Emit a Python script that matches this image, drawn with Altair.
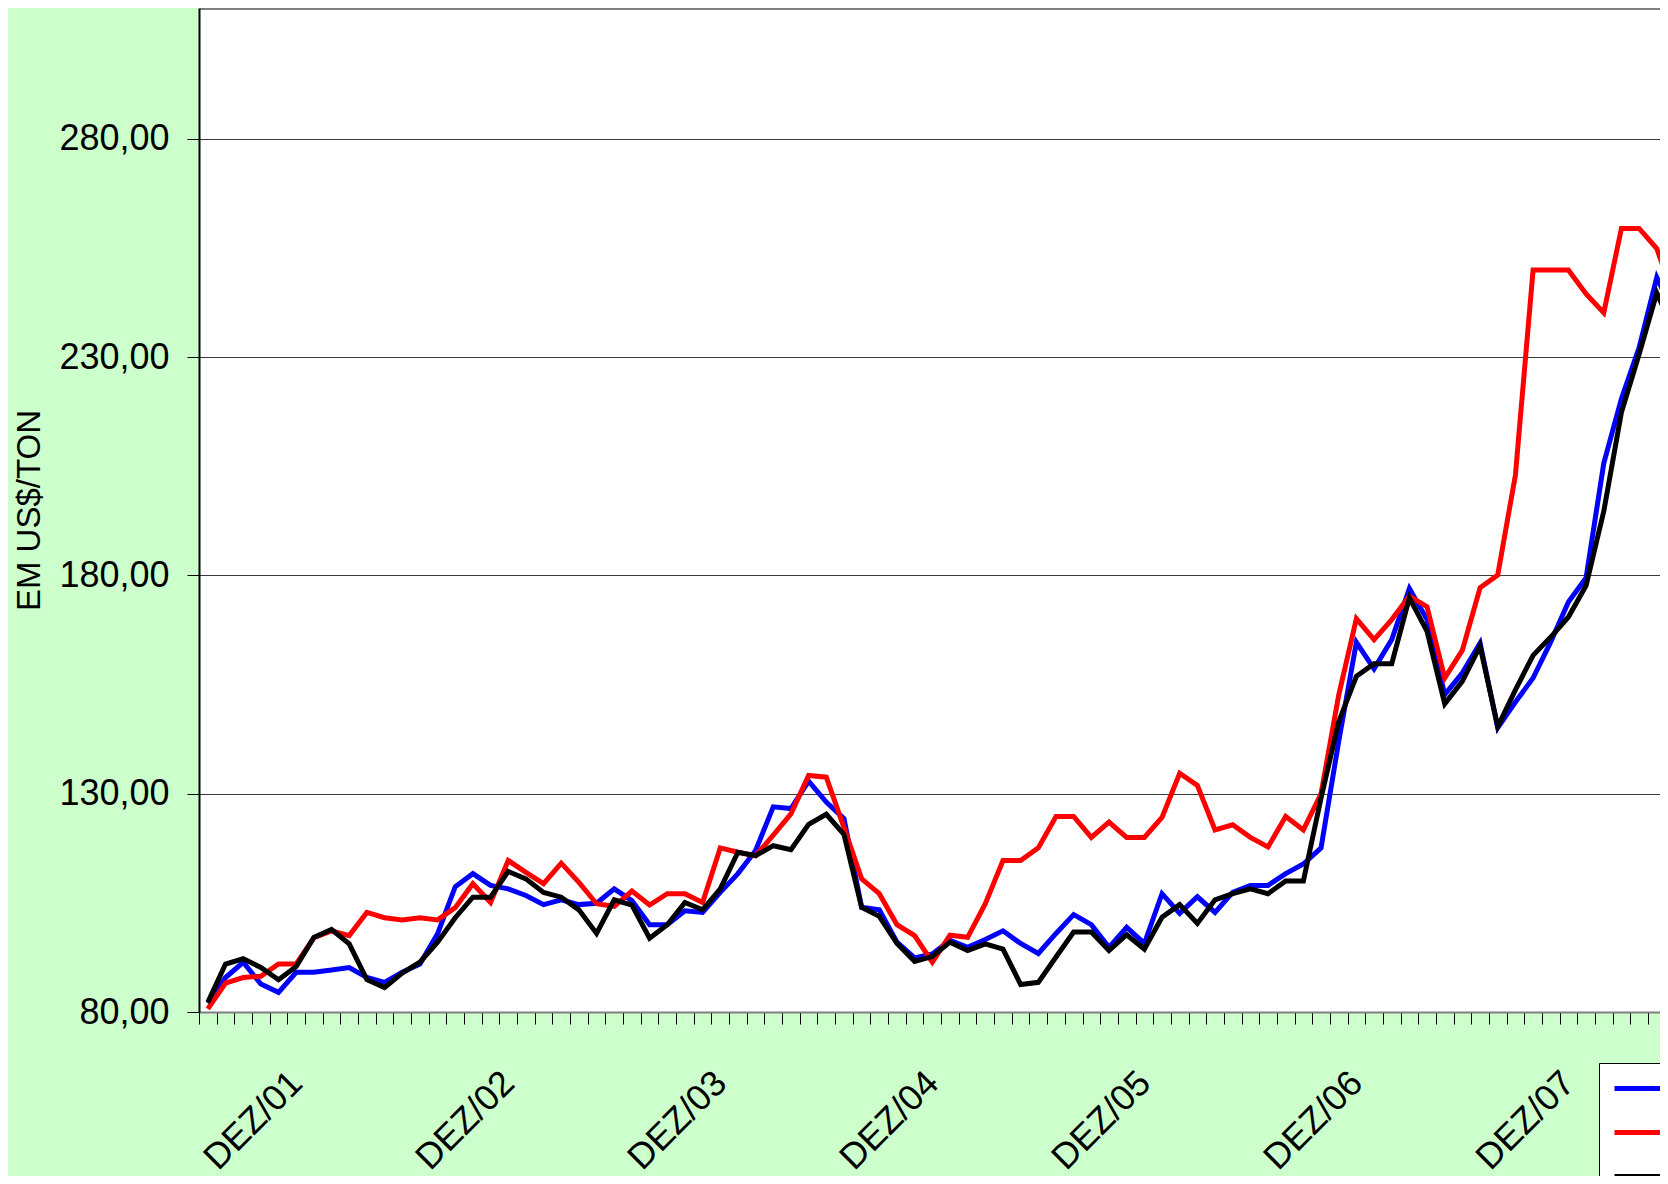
import altair as alt
import pandas as pd

# ---------------- data ----------------
meses = ["JAN", "FEV", "MAR", "ABR", "MAI", "JUN", "JUL", "AGO", "SET", "OUT", "NOV", "DEZ"]
# monthly categories, JUL/01 .. JUN/08
months = []
_m, _y = 6, 1
for _k in range(84):
    months.append(f"{meses[_m]}/{_y:02d}")
    _m += 1
    if _m == 12:
        _m, _y = 0, _y + 1

series_names = ["SÉRIE 1", "SÉRIE 2", "SÉRIE 3"]
series_colors = ["#0000FF", "#FF0000", "#000000"]
series_widths = [5, 5, 1.8]

blue = [82.0, 87.9, 91.4, 86.4, 84.5, 89.1, 89.1, 89.6, 90.2, 87.9,
        86.8, 89.1, 91.0, 97.9, 108.7, 111.7, 109.0, 108.2, 106.7, 104.6,
        105.7, 104.6, 104.9, 108.2, 105.5, 100.0, 100.0, 103.2, 102.8, 107.4,
        111.7, 117.0, 127.0, 126.6, 132.9, 128.1, 124.3, 104.0, 103.4, 96.0,
        92.4, 93.3, 96.4, 94.8, 96.6, 98.6, 95.7, 93.4, 98.0, 102.3,
        100.0, 94.8, 99.4, 95.7, 107.1, 102.6, 106.4, 102.8, 107.4, 109.0,
        109.0, 111.7, 113.9, 117.6, 142.0, 164.7, 158.6, 165.3, 177.0, 169.9,
        152.7, 157.7, 164.5, 145.1, 151.0, 156.5, 164.8, 173.9, 179.5, 205.7,
        220.5, 232.2, 248.3, 239.6]

red = [80.7, 86.6, 87.9, 88.2, 91.0, 91.0, 97.0, 98.6, 97.5, 102.8,
       101.6, 101.1, 101.6, 101.1, 103.9, 109.4, 105.1, 114.7, 112.0, 109.4,
       114.1, 109.7, 104.8, 104.2, 107.7, 104.5, 107.1, 107.1, 105.1, 117.6,
       116.6, 115.8, 120.5, 125.4, 134.2, 133.8, 122.3, 110.5, 107.1, 100.0,
       97.5, 91.4, 97.6, 97.1, 104.8, 114.7, 114.7, 117.6, 124.8, 124.8,
       120.0, 123.5, 120.0, 120.0, 124.6, 134.7, 131.9, 121.7, 122.9, 120.0,
       117.8, 124.8, 121.7, 130.0, 152.6, 170.1, 165.3, 169.9, 175.3, 172.8,
       156.5, 162.9, 177.2, 180.1, 203.0, 250.0, 250.0, 250.0, 244.5, 240.2,
       259.5, 259.5, 254.9, 243.4]

black = [82.2, 91.0, 92.2, 90.2, 87.4, 90.4, 97.1, 98.9, 95.6, 87.4,
         85.6, 88.9, 91.4, 96.0, 101.6, 106.3, 106.3, 112.2, 110.5, 107.4,
         106.3, 103.4, 98.0, 105.7, 104.5, 96.9, 100.0, 105.1, 103.4, 108.2,
         116.6, 115.8, 118.1, 117.2, 123.0, 125.3, 120.7, 104.0, 101.9, 95.7,
         91.6, 92.7, 96.0, 94.1, 95.6, 94.4, 86.3, 86.8, 92.6, 98.3,
         98.3, 94.1, 97.7, 94.4, 101.7, 104.6, 100.3, 105.7, 107.1, 108.2,
         107.1, 110.0, 110.0, 129.0, 146.5, 156.9, 159.8, 159.8, 174.9, 167.2,
         150.6, 155.8, 163.8, 145.4, 153.8, 161.7, 165.9, 170.5, 177.7, 194.7,
         217.4, 230.7, 244.7, 235.8]

y_ticks = [80, 130, 180, 230, 280]

rows = []
for name, vals in zip(series_names, [blue, red, black]):
    for i, v in enumerate(vals):
        rows.append({"mes": months[i], "pos": i + 0.5, "valor": v, "serie": name})
df = pd.DataFrame(rows)

dez_pos = [i + 0.5 for i, m in enumerate(months) if m.startswith("DEZ")]
dez_lab = [m for m in months if m.startswith("DEZ")]
label_expr = " : ".join(f"datum.value == {p} ? '{l}'" for p, l in zip(dez_pos, dez_lab)) + " : ''"

FONT = "Liberation Sans"
PX = 17.67            # px per category
PLOT_W = 1461         # visible plot width (axis continues past the page edge)
X_MAX = PLOT_W / PX   # categories visible in the window

x_scale = alt.Scale(domain=[0, X_MAX], nice=False, zero=False)
y_scale = alt.Scale(domain=[80, 310], nice=False, zero=False)

legend = alt.Legend(
    orient="none", legendX=1400, legendY=1055, title=None, direction="vertical",
    strokeColor="black", fillColor="white", padding=3, cornerRadius=0,
    symbolType="M-0.5,0H3", symbolSize=1600, rowPadding=6, labelOffset=40,
    labelFontSize=30, labelFont=FONT, labelColor="black",
)

lines = alt.Chart(df).mark_line(clip=True).encode(
    x=alt.X("pos:Q", scale=x_scale,
            axis=alt.Axis(orient="bottom", values=list(range(0, int(X_MAX) + 1)), labels=False,
                          ticks=True, tickSize=12, tickColor="black", tickWidth=1,
                          domainColor="#808080", domainWidth=2, grid=False, title=None)),
    y=alt.Y("valor:Q", scale=y_scale,
            axis=alt.Axis(values=y_ticks,
                          labelExpr="replace(format(datum.value, '.2f'), '.', ',')",
                          tickSize=12, tickColor="black", tickWidth=1, labelPadding=18,
                          labelFontSize=36, labelFont=FONT, labelColor="black",
                          domainColor="black", domainWidth=2,
                          gridColor="#3a3a3a", gridWidth=1,
                          title="EM US$/TON", titleFont=FONT, titleFontSize=33,
                          titleFontWeight="normal", titleColor="black",
                          titleAngle=270, titleX=-170, titleY=502,
                          titleAlign="center", titleBaseline="middle")),
    color=alt.Color("serie:N", scale=alt.Scale(domain=series_names, range=series_colors), legend=legend),
    strokeWidth=alt.StrokeWidth("serie:N", scale=alt.Scale(domain=series_names, range=series_widths), legend=legend),
)

labels_layer = alt.Chart(df).mark_point(opacity=0).encode(
    x=alt.X("pos:Q", scale=x_scale,
            axis=alt.Axis(orient="bottom", values=dez_pos, labelExpr=label_expr,
                          ticks=False, tickSize=0, domain=False, grid=False,
                          labelAngle=315, labelAlign="right", labelBaseline="middle",
                          labelPadding=65, labelFontSize=36, labelFont=FONT,
                          labelColor="black", labelOverlap=False, title=None)),
    y=alt.value(0),
)

top_border = alt.Chart(df).mark_point(opacity=0).encode(
    x=alt.X("pos:Q", scale=x_scale,
            axis=alt.Axis(orient="top", labels=False, ticks=False, grid=False,
                          domainColor="#808080", domainWidth=3, title=None)),
    y=alt.value(0),
)

chart = alt.layer(lines, labels_layer, top_border).resolve_axis(x="independent").properties(
    width=PLOT_W, height=1004,
    background="#CCFFCC",
    padding={"left": 191, "top": 0, "right": 0, "bottom": 164},
    autosize=alt.AutoSizeParams(type="none"),
).configure_view(fill="white", stroke=None)

chart.save("out.html", embed_options={"renderer": "svg", "actions": False})
